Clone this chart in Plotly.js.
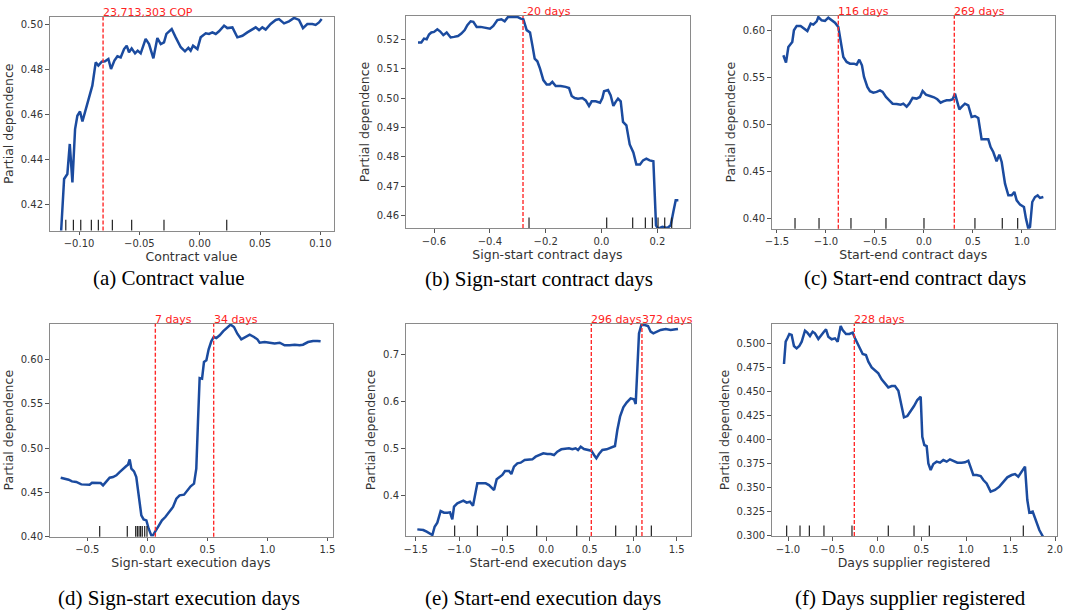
<!DOCTYPE html>
<html><head><meta charset="utf-8">
<script src="https://cdn.plot.ly/plotly-3.0.1.min.js"></script>
<style>html,body{margin:0;padding:0;background:#fff}#chart{width:1068px;height:611px}</style>
</head><body><div id="chart"></div>
<script>
// ---------- data ----------
// (a) Contract value
const aX = [-0.1149,-0.1124,-0.1097,-0.1077,-0.1055,-0.1033,-0.1014,-0.0992,-0.0972,-0.0945,-0.0917,-0.0890,-0.0862,-0.0840,-0.0812,-0.0785,-0.0757,-0.0735,-0.0707,-0.0682,-0.0655,-0.0627,-0.0605,-0.0586,-0.0564,-0.0536,-0.0514,-0.0489,-0.0448,-0.0420,-0.0384,-0.0351,-0.0323,-0.0296,-0.0276,-0.0232,-0.0199,-0.0157,-0.0122,-0.0094,-0.0075,-0.0055,-0.0019,0.0008,0.0050,0.0077,0.0105,0.0133,0.0160,0.0202,0.0229,0.0271,0.0312,0.0354,0.0395,0.0423,0.0464,0.0492,0.0519,0.0547,0.0588,0.0630,0.0657,0.0699,0.0740,0.0782,0.0823,0.0856,0.0892,0.0934,0.0961,0.0989,0.1011];
const aY = [0.4079,0.4314,0.4336,0.4469,0.4299,0.4535,0.4594,0.4613,0.4569,0.4624,0.4675,0.4727,0.4830,0.4816,0.4833,0.4835,0.4845,0.4801,0.4838,0.4857,0.4852,0.4889,0.4904,0.4875,0.4892,0.4870,0.4882,0.4870,0.4934,0.4911,0.4848,0.4938,0.4911,0.4919,0.4956,0.4978,0.4941,0.4897,0.4879,0.4894,0.4882,0.4904,0.4889,0.4941,0.4959,0.4956,0.4963,0.4956,0.4968,0.4993,0.4982,0.4985,0.4941,0.4948,0.4963,0.4973,0.4985,0.4973,0.4985,0.4975,0.5000,0.5018,0.5022,0.5003,0.5012,0.5027,0.5018,0.4982,0.5000,0.5000,0.4996,0.5007,0.5022];
const aRug = [-0.1110,-0.1047,-0.0986,-0.0898,-0.0840,-0.0724,-0.0564,-0.0296,0.0224];
const aVl = [-0.0801];
const aVlab = ['23,713,303 COP'];
const aXT = [-0.10,-0.05,0.00,0.05,0.10];
const aYT = [0.42,0.44,0.46,0.48,0.50];

// (b) Sign-start contract days
const bX = [-0.6573,-0.6454,-0.6358,-0.6263,-0.6179,-0.6096,-0.6000,-0.5881,-0.5785,-0.5666,-0.5546,-0.5403,-0.5284,-0.5140,-0.5021,-0.4901,-0.4806,-0.4687,-0.4591,-0.4472,-0.4328,-0.4149,-0.3994,-0.3875,-0.3731,-0.3588,-0.3469,-0.3349,-0.3194,-0.3015,-0.2896,-0.2800,-0.2681,-0.2561,-0.2478,-0.2394,-0.2299,-0.2203,-0.2084,-0.1964,-0.1857,-0.1761,-0.1642,-0.1463,-0.1284,-0.1164,-0.1069,-0.0961,-0.0842,-0.0687,-0.0567,-0.0448,-0.0352,-0.0209,-0.0054,0.0030,0.0090,0.0233,0.0328,0.0424,0.0507,0.0591,0.0687,0.0770,0.0890,0.1009,0.1140,0.1248,0.1379,0.1487,0.1606,0.1725,0.1857,0.1904,0.1952,0.2024,0.2179,0.2358,0.2478,0.2573,0.2657,0.2752];
const bY = [0.5189,0.5189,0.5202,0.5200,0.5216,0.5223,0.5225,0.5234,0.5227,0.5214,0.5223,0.5206,0.5208,0.5211,0.5219,0.5231,0.5248,0.5261,0.5259,0.5242,0.5242,0.5240,0.5236,0.5245,0.5265,0.5268,0.5261,0.5276,0.5277,0.5276,0.5270,0.5268,0.5231,0.5223,0.5180,0.5134,0.5125,0.5100,0.5061,0.5046,0.5046,0.5055,0.5041,0.5041,0.5038,0.5034,0.5007,0.5000,0.4998,0.5000,0.4992,0.4973,0.4989,0.4989,0.4984,0.5000,0.5023,0.5027,0.5009,0.4973,0.4987,0.4998,0.4989,0.4919,0.4907,0.4842,0.4815,0.4774,0.4774,0.4788,0.4794,0.4788,0.4785,0.4681,0.4567,0.4556,0.4562,0.4558,0.4567,0.4613,0.4652,0.4652];
const bRug = [-0.2597,0.0185,0.1116,0.1570,0.1821,0.2024,0.2263,0.2513];
const bVl = [-0.2812];
const bVlab = ['-20 days'];
const bXT = [-0.6,-0.4,-0.2,0.0,0.2];
const bYT = [0.46,0.47,0.48,0.49,0.50,0.51,0.52];

// (c) Start-end contract days
const cX = [-1.435,-1.408,-1.384,-1.361,-1.344,-1.327,-1.299,-1.259,-1.221,-1.190,-1.156,-1.129,-1.095,-1.078,-1.044,-1.010,-0.976,-0.942,-0.908,-0.874,-0.850,-0.823,-0.789,-0.755,-0.714,-0.687,-0.660,-0.633,-0.612,-0.578,-0.551,-0.517,-0.483,-0.449,-0.422,-0.388,-0.354,-0.320,-0.279,-0.238,-0.211,-0.177,-0.150,-0.116,-0.075,-0.041,-0.014,0.020,0.061,0.102,0.136,0.170,0.197,0.231,0.265,0.293,0.316,0.333,0.361,0.384,0.418,0.452,0.486,0.520,0.554,0.588,0.622,0.656,0.680,0.707,0.741,0.769,0.793,0.827,0.861,0.895,0.922,0.946,0.980,1.020,1.041,1.065,1.082,1.105,1.133,1.160,1.184,1.218];
const cY = [0.5738,0.5660,0.5826,0.5862,0.5879,0.6004,0.6050,0.6050,0.6021,0.5996,0.6074,0.6064,0.6099,0.6145,0.6110,0.6103,0.6138,0.6110,0.6085,0.6039,0.5897,0.5720,0.5667,0.5649,0.5649,0.5638,0.5691,0.5631,0.5507,0.5401,0.5355,0.5340,0.5348,0.5365,0.5348,0.5294,0.5259,0.5223,0.5220,0.5213,0.5223,0.5191,0.5223,0.5284,0.5277,0.5294,0.5358,0.5319,0.5305,0.5291,0.5270,0.5234,0.5248,0.5259,0.5259,0.5270,0.5330,0.5259,0.5163,0.5188,0.5223,0.5206,0.5082,0.5092,0.5071,0.4844,0.4844,0.4844,0.4762,0.4709,0.4610,0.4681,0.4603,0.4372,0.4248,0.4248,0.4284,0.4195,0.4149,0.4124,0.4000,0.3894,0.3911,0.4177,0.4230,0.4248,0.4220,0.4230];
const cRug = [-1.316,-1.071,-0.745,-0.388,0.0,0.520,0.799,0.956];
const cVl = [-0.874,0.3095];
const cVlab = ['116 days','269 days'];
const cXT = [-1.5,-1.0,-0.5,0.0,0.5,1.0];
const cYT = [0.40,0.45,0.50,0.55,0.60];

// (d) Sign-start execution days
const dX = [-0.722,-0.689,-0.656,-0.628,-0.592,-0.550,-0.517,-0.481,-0.461,-0.425,-0.389,-0.369,-0.342,-0.314,-0.286,-0.258,-0.231,-0.203,-0.175,-0.161,-0.147,-0.133,-0.111,-0.092,-0.072,-0.050,-0.031,-0.008,0.011,0.033,0.047,0.067,0.089,0.122,0.150,0.178,0.214,0.242,0.269,0.306,0.333,0.361,0.389,0.408,0.422,0.436,0.456,0.472,0.492,0.511,0.533,0.553,0.575,0.603,0.631,0.658,0.694,0.722,0.750,0.783,0.817,0.853,0.889,0.917,0.936,0.978,1.019,1.061,1.103,1.144,1.186,1.228,1.269,1.297,1.339,1.381,1.417,1.444];
const dY = [0.4665,0.4654,0.4643,0.4624,0.4617,0.4590,0.4586,0.4586,0.4609,0.4609,0.4605,0.4579,0.4617,0.4665,0.4673,0.4692,0.4729,0.4767,0.4797,0.4812,0.4872,0.4767,0.4737,0.4673,0.4466,0.4241,0.4195,0.4184,0.4090,0.4015,0.4015,0.4060,0.4109,0.4184,0.4222,0.4278,0.4335,0.4429,0.4466,0.4474,0.4523,0.4568,0.4598,0.4767,0.5293,0.5789,0.5782,0.5970,0.5989,0.6113,0.6203,0.6252,0.6241,0.6271,0.6316,0.6353,0.6391,0.6365,0.6289,0.6226,0.6252,0.6278,0.6252,0.6226,0.6188,0.6195,0.6188,0.6180,0.6188,0.6158,0.6158,0.6165,0.6158,0.6165,0.6195,0.6207,0.6207,0.6203];
const dRug = [-0.397,-0.167,-0.097,-0.083,-0.069,-0.056,-0.042,-0.022,-0.003];
const dVl = [0.0667,0.5528];
const dVlab = ['7 days','34 days'];
const dXT = [-0.5,0.0,0.5,1.0,1.5];
const dYT = [0.40,0.45,0.50,0.55,0.60];

// (e) Start-end execution days
const eX = [-1.481,-1.443,-1.412,-1.374,-1.335,-1.308,-1.282,-1.251,-1.213,-1.174,-1.136,-1.105,-1.079,-1.059,-1.021,-0.983,-0.952,-0.914,-0.876,-0.841,-0.810,-0.791,-0.753,-0.695,-0.657,-0.630,-0.599,-0.569,-0.534,-0.504,-0.473,-0.427,-0.400,-0.370,-0.331,-0.293,-0.247,-0.209,-0.159,-0.121,-0.082,-0.033,0.013,0.052,0.090,0.128,0.174,0.224,0.262,0.301,0.339,0.366,0.397,0.435,0.481,0.519,0.550,0.577,0.607,0.646,0.695,0.734,0.772,0.791,0.818,0.849,0.887,0.925,0.971,1.010,1.029,1.048,1.067,1.094,1.132,1.171,1.201,1.232,1.270,1.316,1.374,1.431,1.489,1.515];
const eY = [0.3264,0.3250,0.3250,0.3214,0.3179,0.3143,0.3321,0.3407,0.3657,0.3621,0.3621,0.3629,0.3479,0.3750,0.3821,0.3857,0.3879,0.3836,0.3857,0.3771,0.4107,0.4250,0.4250,0.4250,0.4214,0.4164,0.4107,0.4336,0.4393,0.4429,0.4514,0.4514,0.4450,0.4607,0.4679,0.4693,0.4750,0.4750,0.4764,0.4821,0.4857,0.4893,0.4879,0.4879,0.4857,0.4929,0.4979,0.5000,0.5000,0.4979,0.5000,0.4964,0.5036,0.4986,0.4964,0.4950,0.4857,0.4786,0.4879,0.4964,0.4979,0.5014,0.5050,0.5050,0.5393,0.5679,0.5879,0.5979,0.6071,0.6050,0.5950,0.6893,0.7464,0.7643,0.7643,0.7621,0.7500,0.7464,0.7500,0.7536,0.7557,0.7536,0.7550,0.7557];
const eRug = [-1.052,-0.791,-0.446,-0.109,0.351,0.799,1.036,1.209];
const eVl = [0.519,1.101];
const eVlab = ['296 days','372 days'];
const eXT = [-1.5,-1.0,-0.5,0.0,0.5,1.0,1.5];
const eYT = [0.4,0.5,0.6,0.7];

// (f) Days supplier registered
const fX = [-1.045,-1.026,-1.007,-0.985,-0.959,-0.933,-0.903,-0.873,-0.846,-0.809,-0.783,-0.753,-0.723,-0.697,-0.659,-0.622,-0.596,-0.573,-0.547,-0.509,-0.472,-0.442,-0.408,-0.386,-0.348,-0.311,-0.273,-0.247,-0.221,-0.191,-0.161,-0.124,-0.097,-0.060,-0.022,0.015,0.052,0.090,0.127,0.165,0.202,0.240,0.270,0.303,0.341,0.375,0.416,0.453,0.491,0.509,0.532,0.558,0.577,0.603,0.633,0.670,0.708,0.745,0.783,0.820,0.858,0.903,0.951,0.989,1.026,1.052,1.082,1.120,1.165,1.195,1.232,1.277,1.326,1.375,1.419,1.464,1.513,1.551,1.588,1.614,1.663,1.689,1.712,1.749,1.787,1.824,1.869];
const fY = [0.4785,0.5017,0.5052,0.5097,0.5087,0.4972,0.4948,0.4972,0.5017,0.5132,0.5111,0.5076,0.5121,0.5104,0.5045,0.5097,0.5121,0.5146,0.5069,0.5042,0.5052,0.5017,0.5180,0.5139,0.5097,0.5097,0.5111,0.5052,0.5000,0.4948,0.4889,0.4879,0.4809,0.4750,0.4723,0.4688,0.4626,0.4584,0.4542,0.4556,0.4556,0.4508,0.4376,0.4231,0.4244,0.4289,0.4348,0.4411,0.4445,0.4029,0.3943,0.3932,0.3752,0.3683,0.3745,0.3770,0.3759,0.3787,0.3770,0.3794,0.3780,0.3759,0.3759,0.3763,0.3780,0.3718,0.3631,0.3631,0.3620,0.3579,0.3544,0.3458,0.3475,0.3510,0.3562,0.3607,0.3631,0.3641,0.3614,0.3655,0.3718,0.3371,0.3239,0.3250,0.3146,0.3059,0.2983];
const fRug = [-1.015,-0.865,-0.760,-0.596,-0.281,0.127,0.416,0.588,1.644];
const fVl = [-0.2547];
const fVlab = ['228 days'];
const fXT = [-1.0,-0.5,0.0,0.5,1.0,1.5,2.0];
const fYT = [0.300,0.325,0.350,0.375,0.400,0.425,0.450,0.475,0.500];

const xLabels = ['Contract value','Sign-start contract days','Start-end contract days','Sign-start execution days','Start-end execution days','Days supplier registered'];
const captions = ['(a) Contract value','(b) Sign-start contract days','(c) Start-end contract days','(d) Sign-start execution days','(e) Start-end execution days','(f) Days supplier registered'];

// ---------- layout (pixel frames of each panel) ----------
const W = 1068, H = 611;
const panels = [
  {x:aX,y:aY,rug:aRug,vl:aVl,vlab:aVlab,xt:aXT,yt:aYT,xf:'.2f',yf:'.2f',frame:[49.5,333.5,17,230.5],xr:[-0.1245,0.1109],yr:[0.4086,0.5031],cap:[169,278]},
  {x:bX,y:bY,rug:bRug,vl:bVl,vlab:bVlab,xt:bXT,yt:bYT,xf:'.1f',yf:'.2f',frame:[405.5,689.5,16,228],xr:[-0.7021,0.3151],yr:[0.4558,0.5279],cap:[539,278.5]},
  {x:cX,y:cY,rug:cRug,vl:cVl,vlab:cVlab,xt:cXT,yt:cYT,xf:'.1f',yf:'.2f',frame:[771.5,1055,15.5,228.7],xr:[-1.556,1.337],yr:[0.3893,0.6161],cap:[915,278]},
  {x:dX,y:dY,rug:dRug,vl:dVl,vlab:dVlab,xt:dXT,yt:dYT,xf:'.1f',yf:'.2f',frame:[49.5,332.5,323.7,536.7],xr:[-0.8153,1.5431],yr:[0.4000,0.6402],cap:[179,598]},
  {x:eX,y:eY,rug:eRug,vl:eVl,vlab:eVlab,xt:eXT,yt:eYT,xf:'.1f',yf:'.1f',frame:[405.5,690.7,324,536],xr:[-1.6169,1.6613],yr:[0.3122,0.7664],cap:[542.7,598]},
  {x:fX,y:fY,rug:fRug,vl:fVl,vlab:fVlab,xt:fXT,yt:fYT,xf:'.1f',yf:'.3f',frame:[771.7,1056.5,324,536],xr:[-1.1831,2.0169],yr:[0.2997,0.5201],cap:[910.3,598]}
];

const TXT = '#333333';
const FRAME = '#8a8a8a';
const BLUE = '#1b4b9f';
const data = [], shapes = [], annotations = [];
const layout = {
  width: W, height: H, margin:{l:0,r:0,t:0,b:0},
  paper_bgcolor:'#ffffff', plot_bgcolor:'#ffffff', showlegend:false,
  font:{family:'DejaVu Sans', size:10, color:TXT}
};

panels.forEach((p, i) => {
  const n = i + 1;
  const xa = 'x' + (n === 1 ? '' : n), ya = 'y' + (n === 1 ? '' : n);
  const [l, r, t, b] = p.frame;
  const common = {
    showline:true, mirror:true, linecolor:FRAME, linewidth:1,
    ticks:'outside', ticklen:3.5, tickwidth:1, tickcolor:'#555',
    showgrid:false, zeroline:false, fixedrange:true,
    tickfont:{family:'DejaVu Sans', size:10, color:TXT}
  };
  layout['xaxis' + (n === 1 ? '' : n)] = Object.assign({}, common, {
    domain:[l / W, r / W], range:p.xr, anchor:ya,
    tickvals:p.xt, tickformat:p.xf,
    title:{text:xLabels[i], font:{family:'DejaVu Sans', size:12.5, color:TXT}, standoff:2}
  });
  layout['yaxis' + (n === 1 ? '' : n)] = Object.assign({}, common, {
    domain:[1 - b / H, 1 - t / H], range:p.yr, anchor:xa,
    tickvals:p.yt, tickformat:p.yf,
    title:{text:'Partial dependence', font:{family:'DejaVu Sans', size:12.5, color:TXT}, standoff:4}
  });
  data.push({x:p.x, y:p.y, xaxis:xa, yaxis:ya, type:'scatter', mode:'lines',
    line:{color:BLUE, width:2.5}, hoverinfo:'skip'});
  p.rug.forEach(v => shapes.push({type:'line', xref:xa, yref:ya + ' domain', x0:v, x1:v, y0:0, y1:0.05,
    line:{color:'#222', width:1.2}}));
  p.vl.forEach((v, k) => {
    shapes.push({type:'line', xref:xa, yref:ya + ' domain', x0:v, x1:v, y0:0, y1:1,
      line:{color:'#ff2a2a', width:1.4, dash:'4px,2px'}});
    annotations.push({xref:xa, yref:ya + ' domain', x:v, y:1, xanchor:'left', yanchor:'bottom',
      text:p.vlab[k], showarrow:false, borderpad:0, xshift:-1, yshift:-3,
      font:{family:'DejaVu Sans', size:11, color:'#ff2222'}});
  });
  annotations.push({xref:'paper', yref:'paper', x:p.cap[0] / W, y:1 - p.cap[1] / H,
    xanchor:'center', yanchor:'middle', text:captions[i], showarrow:false,
    font:{family:'Liberation Serif', size:21, color:'#000'}});
});
layout.shapes = shapes;
layout.annotations = annotations;
Plotly.newPlot('chart', data, layout, {displayModeBar:false, staticPlot:true});
</script></body></html>
